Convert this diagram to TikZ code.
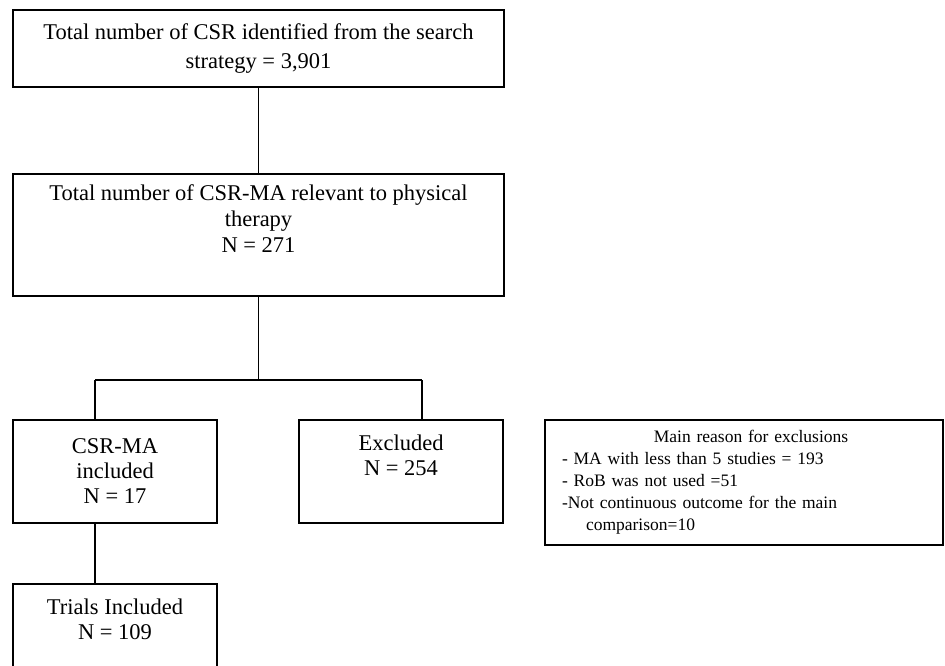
\documentclass[tikz,border=0pt]{standalone}
\usepackage{fontspec}
\setmainfont{Liberation Serif}
\usepackage{tikz}

\begin{document}
\begin{tikzpicture}[x=1pt, y=-1pt, line width=1.6pt,
  box/.style={draw, rectangle, align=center, inner sep=0pt, font=\fontsize{22.5}{25}\selectfont},
  note/.style={draw, rectangle, align=left, inner xsep=17pt, inner ysep=0pt, font=\fontsize{17.5}{22}\selectfont}]

    \useasboundingbox (0,0) rectangle (945,666);

    % The boxes
    \node [box, minimum width=491pt, minimum height=77pt, font=\fontsize{22.5}{29}\selectfont] at (258.5,48.5) (total) {Total number of CSR identified from the search\\strategy = 3,901};
    \node [box, minimum width=491pt, minimum height=122pt, font=\fontsize{22.5}{26}\selectfont] at (258.5,235) (relevant) {Total number of CSR-MA relevant to physical\\therapy\\N = 271\\\strut};
    \node [box, minimum width=204pt, minimum height=103pt] at (115,471.5) (incl) {CSR-MA\\included\\N = 17};
    \node [box, minimum width=204pt, minimum height=103pt] at (401,471.5) (excl) {Excluded\\N = 254\\\strut};
    \node [note, text width=364pt, minimum height=125pt] at (744,482.5) (reasons) {\makebox[\linewidth]{\hspace*{14pt}Main reason for exclusions}\\- MA with less than 5 studies = 193\\- RoB was not used =51\\-Not continuous outcome for the main\\\hspace*{24pt}comparison=10};
    \node [box, minimum width=204pt, minimum height=103pt] at (115,635.5) (trials) {Trials Included\\N = 109\\\strut};

    % Branch points
    \coordinate (split) at (258.5,380);
    \coordinate (lbr) at (95,380);
    \coordinate (rbr) at (422,380);

    % Connections
    \path[-]
    (total) edge (relevant)
    (relevant) edge (split)
    (lbr) edge (rbr)
    (lbr) edge (lbr |- incl.north)
    (rbr) edge (rbr |- excl.north)
    (incl.south -| lbr) edge (trials.north -| lbr);
\end{tikzpicture}
\end{document}
